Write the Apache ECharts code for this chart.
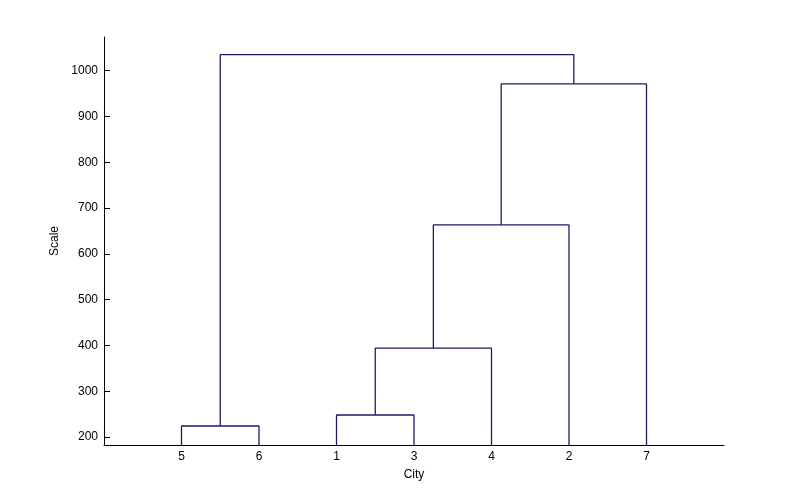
<!DOCTYPE html>
<html>
<head>
<meta charset="utf-8">
<script src="https://cdn.jsdelivr.net/npm/echarts@6/dist/echarts.min.js"></script>
<style>
html, body { margin: 0; padding: 0; background: #fff; }
#main { width: 800px; height: 500px; }
</style>
</head>
<body>
<div id="main"></div>
<script>
// leaves in plotted order (city numbers)
var leafOrder = [5, 6, 1, 3, 4, 2, 7];
// linkage: cluster ids 1..7 are cities, merges create ids 8, 9, ...
var linkA = [5, 1, 9, 10, 11, 8];
var linkB = [6, 3, 4, 2, 7, 12];
var linkHeight = [224, 248, 394, 663, 971, 1035];
var yTicks = [200, 300, 400, 500, 600, 700, 800, 900, 1000];
var yMin = 182.5, yMax = 1073.5;

var chart = echarts.init(document.getElementById('main'));

// position of each cluster: x along the leaf order, y = merge height
var pos = {};
leafOrder.forEach(function (c, i) { pos[c] = [i + 1, yMin]; });
var series = [];
for (var k = 0; k < linkA.length; k++) {
	var a = pos[linkA[k]], b = pos[linkB[k]], h = linkHeight[k];
	series.push({
		type: 'line',
		symbol: 'none',
		silent: true,
		lineStyle: { color: '#1c1c66', width: 1.3 },
		data: [[a[0], a[1]], [a[0], h], [b[0], h], [b[0], b[1]]]
	});
	pos[8 + k] = [(a[0] + b[0]) / 2, h];
}

option = {
	animation: false,
	backgroundColor: '#fff',
	grid: { left: 104, right: 76, top: 37, bottom: 55 },
	xAxis: {
		type: 'value',
		min: 0,
		max: 8,
		name: 'City',
		nameLocation: 'middle',
		nameGap: 24,
		nameTextStyle: { color: '#000', fontSize: 12, fontFamily: 'Liberation Sans' },
		axisLine: { lineStyle: { color: '#000', width: 1 } },
		axisTick: { show: false },
		splitLine: { show: false },
		axisLabel: {
			customValues: [1, 2, 3, 4, 5, 6, 7],
			color: '#000',
			fontSize: 12,
			fontFamily: 'Liberation Sans',
			margin: 6,
			formatter: function (v) { return String(leafOrder[v - 1]); }
		}
	},
	yAxis: {
		type: 'value',
		min: yMin,
		max: yMax,
		name: 'Scale',
		nameLocation: 'middle',
		nameGap: 40,
		nameTextStyle: { color: '#000', fontSize: 12, fontFamily: 'Liberation Sans' },
		axisLine: { show: true, lineStyle: { color: '#000', width: 1 } },
		axisTick: { show: true, inside: true, length: 6, customValues: yTicks, lineStyle: { color: '#000' } },
		splitLine: { show: false },
		axisLabel: {
			customValues: yTicks,
			color: '#000',
			fontSize: 12,
			fontFamily: 'Liberation Sans',
			margin: 6,
			formatter: function (v) { return String(v); }
		}
	},
	series: series
};
chart.setOption(option);
window.addEventListener('resize', function () {
	chart.resize();
});
</script>
</body>
</html>
